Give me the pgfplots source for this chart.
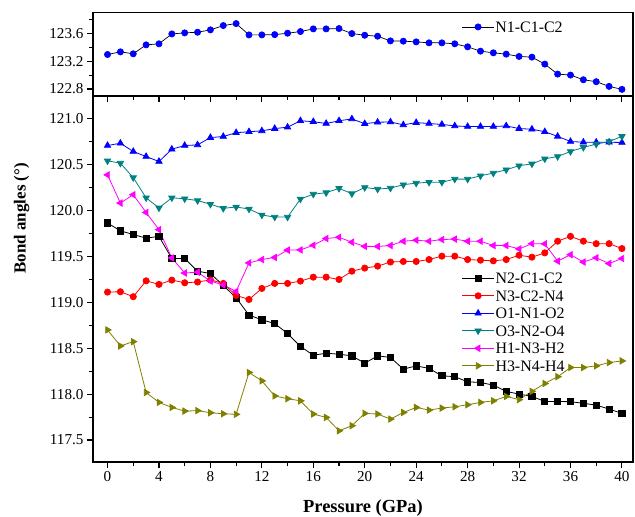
\documentclass[border=0pt]{standalone}
\usepackage{fontspec}
\setmainfont{Liberation Serif}
\usepackage{pgfplots}
\pgfplotsset{compat=1.18}

\definecolor{cteal}{RGB}{0,128,128}
\definecolor{colive}{RGB}{128,128,0}
\definecolor{cmag}{RGB}{255,0,255}

\pgfplotsset{
  panel/.style={
    scale only axis, width=540bp,
    xmin=-1.13, xmax=40.86,
    xtick={0,4,...,40}, minor xtick={2,6,...,38},
    tick align=outside, tick pos=left,
    major tick length=6bp, minor tick length=4bp,
    tick style={black, line width=1.1bp},
    axis line style={line width=1.4bp},
    /pgf/number format/assume math mode=true,
    tick label style={font=\fontsize{15.2}{18}\selectfont},
    legend cell align=left,
    legend image code/.code={\draw[mark repeat=2,mark phase=2,##1]
      plot coordinates {(0bp,0bp) (16bp,0bp) (32bp,0bp)};},
    legend style={draw=none, fill=none, anchor=north west,
      inner sep=0pt, outer sep=0pt,
      font=\fontsize{16}{19}\selectfont,
      nodes={inner sep=1bp, text height=10.5bp, text depth=0bp},
      row sep=5bp},
  },
  ser/.style={line width=0.8bp, mark size=3.1bp, mark options={solid}},
}

\begin{document}
\begin{tikzpicture}
\path[use as bounding box] (-93bp,-55bp) rectangle (542bp,462bp);

% lower panel: six bond angles
\begin{axis}[panel, name=bot, at={(0,0)}, anchor=south west,
  height=366bp,
  ymin=117.26, ymax=121.25,
  ytick={117.5,118.0,118.5,119.0,119.5,120.0,120.5,121.0},
  minor ytick={117.75,118.25,118.75,119.25,119.75,120.25,120.75},
  yticklabel style={/pgf/number format/.cd, fixed, fixed zerofill, precision=1},
  xlabel={\textbf{Pressure (GPa)}},
  xlabel style={font=\fontsize{18.5}{22}\selectfont,
    at={(axis description cs:0.5,0)}, anchor=center, yshift=-46bp},
  ylabel={\textbf{Bond angles (\textdegree)}},
  ylabel style={font=\fontsize{17}{20}\selectfont,
    at={(axis description cs:-0.132,0.666)}, anchor=center},
  legend style={at={(axis description cs:0.6828,0.519)}},
]
\addplot[ser, black, mark=square*] coordinates {
(0,119.866) (1,119.78) (2,119.74) (3,119.70) (4,119.72) (5,119.478)
(6,119.478) (7,119.34) (8,119.315) (9,119.185) (10,119.05) (11,118.862)
(12,118.81) (13,118.77) (14,118.66) (15,118.52) (16,118.424) (17,118.446)
(18,118.435) (19,118.417) (20,118.337) (21,118.417) (22,118.40) (23,118.272)
(24,118.308) (25,118.28) (26,118.20) (27,118.19) (28,118.134) (29,118.127)
(30,118.098) (31,118.03) (32,118.00) (33,117.975) (34,117.92) (35,117.92)
(36,117.917) (37,117.90) (38,117.88) (39,117.837) (40,117.79)};
\addlegendentry{N2-C1-C2}
\addplot[ser, red, mark=*] coordinates {
(0,119.112) (1,119.116) (2,119.062) (3,119.235) (4,119.196) (5,119.243)
(6,119.214) (7,119.222) (8,119.245) (9,119.207) (10,119.076) (11,119.032)
(12,119.152) (13,119.207) (14,119.207) (15,119.232) (16,119.275) (17,119.275)
(18,119.25) (19,119.34) (20,119.374) (21,119.395) (22,119.44) (23,119.446)
(24,119.446) (25,119.467) (26,119.504) (27,119.504) (28,119.467) (29,119.46)
(30,119.453) (31,119.467) (32,119.514) (33,119.493) (34,119.54) (35,119.667)
(36,119.72) (37,119.667) (38,119.64) (39,119.64) (40,119.587)};
\addlegendentry{N3-C2-N4}
\addplot[ser, blue, mark=triangle*, mark size=3.6bp] coordinates {
(0,120.71) (1,120.735) (2,120.645) (3,120.59) (4,120.536) (5,120.67)
(6,120.71) (7,120.717) (8,120.797) (9,120.808) (10,120.85) (11,120.86)
(12,120.87) (13,120.895) (14,120.91) (15,120.98) (16,120.97) (17,120.95)
(18,120.98) (19,121.0) (20,120.948) (21,120.964) (22,120.967) (23,120.935)
(24,120.96) (25,120.95) (26,120.94) (27,120.924) (28,120.917) (29,120.917)
(30,120.917) (31,120.924) (32,120.895) (33,120.888) (34,120.86) (35,120.81)
(36,120.754) (37,120.746) (38,120.746) (39,120.746) (40,120.743)};
\addlegendentry{O1-N1-O2}
\addplot[ser, cteal, mark=triangle*, mark size=3.6bp, mark options={rotate=180}] coordinates {
(0,120.543) (1,120.518) (2,120.36) (3,120.14) (4,120.03) (5,120.14)
(6,120.13) (7,120.11) (8,120.07) (9,120.025) (10,120.04) (11,120.018)
(12,119.953) (13,119.93) (14,119.93) (15,120.127) (16,120.18) (17,120.196)
(18,120.243) (19,120.185) (20,120.253) (21,120.235) (22,120.246) (23,120.283)
(24,120.30) (25,120.31) (26,120.31) (27,120.344) (28,120.344) (29,120.38)
(30,120.41) (31,120.446) (32,120.49) (33,120.51) (34,120.565) (35,120.59)
(36,120.645) (37,120.69) (38,120.725) (39,120.754) (40,120.81)};
\addlegendentry{O3-N2-O4}
\addplot[ser, cmag, mark=triangle*, mark size=3.6bp, mark options={rotate=90}] coordinates {
(0,120.39) (1,120.083) (2,120.174) (3,119.98) (4,119.793) (5,119.485)
(6,119.32) (7,119.33) (8,119.232) (9,119.19) (10,119.12) (11,119.43)
(12,119.467) (13,119.49) (14,119.57) (15,119.572) (16,119.623) (17,119.696)
(18,119.71) (19,119.656) (20,119.611) (21,119.61) (22,119.62) (23,119.667)
(24,119.678) (25,119.667) (26,119.685) (27,119.69) (28,119.667) (29,119.667)
(30,119.62) (31,119.62) (32,119.583) (33,119.64) (34,119.638) (35,119.45)
(36,119.52) (37,119.44) (38,119.486) (39,119.424) (40,119.478)};
\addlegendentry{H1-N3-H2}
\addplot[ser, colive, mark=triangle*, mark size=3.6bp, mark options={rotate=270}] coordinates {
(0,118.70) (1,118.525) (2,118.572) (3,118.018) (4,117.91) (5,117.855)
(6,117.815) (7,117.82) (8,117.797) (9,117.786) (10,117.78) (11,118.236)
(12,118.145) (13,117.98) (14,117.95) (15,117.927) (16,117.783) (17,117.746)
(18,117.60) (19,117.656) (20,117.79) (21,117.783) (22,117.728) (23,117.80)
(24,117.855) (25,117.826) (26,117.848) (27,117.862) (28,117.884) (29,117.91)
(30,117.927) (31,117.975) (32,117.94) (33,118.03) (34,118.116) (35,118.19)
(36,118.29) (37,118.29) (38,118.308) (39,118.344) (40,118.362)};
\addlegendentry{H3-N4-H4}
\end{axis}

% upper panel: N1-C1-C2
\begin{axis}[panel, name=top, at={(0,366bp)}, anchor=south west,
  height=83.7bp,
  ymin=122.70, ymax=123.90,
  ytick={122.8,123.2,123.6},
  minor ytick={123.0,123.4,123.8},
  xticklabels={},
  yticklabel style={/pgf/number format/.cd, fixed, fixed zerofill, precision=1},
  legend style={at={(axis description cs:0.6828,0.90)}},
]
\addplot[ser, black, line width=0.7bp, mark=*, mark options={blue, fill=blue}] coordinates {
(0,123.295) (1,123.333) (2,123.305) (3,123.433) (4,123.448) (5,123.59)
(6,123.605) (7,123.614) (8,123.648) (9,123.71) (10,123.738) (11,123.576)
(12,123.576) (13,123.58) (14,123.60) (15,123.624) (16,123.662) (17,123.662)
(18,123.667) (19,123.595) (20,123.571) (21,123.557) (22,123.49) (23,123.486)
(24,123.476) (25,123.462) (26,123.462) (27,123.448) (28,123.405) (29,123.343)
(30,123.319) (31,123.30) (32,123.267) (33,123.257) (34,123.157) (35,123.014)
(36,123.0) (37,122.933) (38,122.905) (39,122.838) (40,122.795)};
\addlegendentry{N1-C1-C2}
\end{axis}
\end{tikzpicture}
\end{document}
